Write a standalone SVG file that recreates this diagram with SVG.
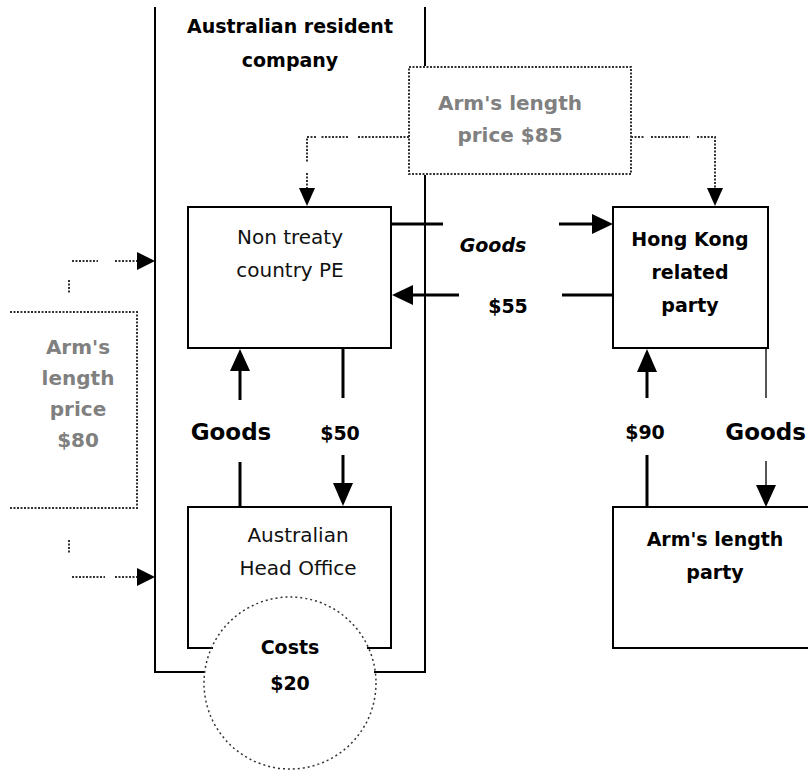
<svg xmlns="http://www.w3.org/2000/svg" width="808" height="771" viewBox="0 0 808 771">
<style>
.box{fill:#fff;stroke:#000;stroke-width:2}
.ln{fill:none;stroke:#000;stroke-width:2}
.thick{fill:none;stroke:#000;stroke-width:3}
.dot{fill:none;stroke:#333;stroke-width:2;stroke-dasharray:2 1.5}
.t{font-family:"DejaVu Sans",sans-serif;font-size:20px;text-anchor:middle;fill:#111}
.b{font-family:"DejaVu Sans",sans-serif;font-size:19px;font-weight:bold;text-anchor:middle;fill:#000}
.g{font-family:"DejaVu Sans",sans-serif;font-size:20px;font-weight:bold;text-anchor:middle;fill:#808080}
.big{font-family:"DejaVu Sans",sans-serif;font-size:23px;font-weight:bold;text-anchor:middle;fill:#000}
</style>
<rect width="808" height="771" fill="#fff"/>
<g id="company">
<path class="ln" d="M155,7 V672 H205"/>
<path class="ln" d="M425,7 V66"/>
<path class="ln" d="M425,175 V672 H374"/>
<text class="b" x="290" y="33">Australian resident</text>
<text class="b" x="290" y="67">company</text>
</g>
<g id="connectors">
<path class="dot" d="M409,137 H357 M348,137 H320 M316,137 H307 V162 M307,173 V196"/>
<path d="M299,188 L315,188 L307,206 Z" fill="#000"/>
<path class="dot" d="M631,137 H645 M651,137 H690 M697,137 H715 V196"/>
<path d="M707,188 L723,188 L715,206 Z" fill="#000"/>
<path class="dot" d="M72,261 H98 M115,261 H140"/>
<path d="M137,252 L155,261 L137,270 Z" fill="#000"/>
<path class="dot" d="M69,280 V294"/>
<path class="dot" d="M69,540 V554"/>
<path class="dot" d="M72,577 H105 M115,577 H140"/>
<path d="M137,568 L155,577 L137,586 Z" fill="#000"/>
<path class="thick" d="M392,224 H443"/>
<path class="thick" d="M559,224 H595"/>
<path d="M592,214 L613,224 L592,234 Z" fill="#000"/>
<path class="thick" d="M613,295 H562"/>
<path class="thick" d="M459,295 H410"/>
<path d="M413,285 L392,295 L413,305 Z" fill="#000"/>
<path class="thick" d="M240,506 V462"/>
<path class="thick" d="M240,400 V368"/>
<path d="M230,371 L240,349 L250,371 Z" fill="#000"/>
<path class="thick" d="M343,349 V398"/>
<path class="thick" d="M343,455 V486"/>
<path d="M333,483 L343,506 L353,483 Z" fill="#000"/>
<path class="thick" d="M647,507 V455"/>
<path class="thick" d="M647,398 V370"/>
<path d="M637,372 L647,349 L657,372 Z" fill="#000"/>
<path d="M766,349 V398" stroke="#555" stroke-width="2" fill="none"/>
<path d="M766,461 V488" stroke="#555" stroke-width="2" fill="none"/>
<path d="M756,485 L766,507 L776,485 Z" fill="#000"/>
<text class="b" x="493" y="252" font-size="17" font-style="italic">Goods</text>
<text class="b" x="508" y="313" font-size="23">$55</text>
<text class="big" x="231" y="440">Goods</text>
<text class="b" x="340" y="440" font-size="23">$50</text>
<text class="b" x="645" y="439" font-size="21">$90</text>
<text class="big" x="806" y="440" style="text-anchor:end" font-size="22">Goods</text>
</g>
<g id="arm85">
<rect class="dot" x="409" y="67" width="222" height="107" fill="#fff"/>
<text class="g" x="510" y="110">Arm's length</text>
<text class="g" x="510" y="142">price $85</text>
</g>
<g id="arm80">
<path class="dot" d="M10,312 H137 V508 H10"/>
<text class="g" x="78" y="354">Arm's</text>
<text class="g" x="78" y="385">length</text>
<text class="g" x="78" y="416">price</text>
<text class="g" x="78" y="447">$80</text>
</g>
<g id="pe">
<rect class="box" x="188" y="207" width="203" height="141"/>
<text class="t" x="290" y="244">Non treaty</text>
<text class="t" x="290" y="277">country PE</text>
</g>
<g id="hk">
<rect class="box" x="613" y="207" width="155" height="141"/>
<text class="b" x="690" y="246">Hong Kong</text>
<text class="b" x="690" y="279">related</text>
<text class="b" x="690" y="312">party</text>
</g>
<g id="headoffice">
<path class="ln" d="M213,648 H188 V507 H391 V648 H367"/>
<text class="t" x="298" y="542">Australian</text>
<text class="t" x="298" y="575">Head Office</text>
</g>
<g id="costs">
<circle cx="290" cy="683" r="86" fill="none" stroke="#333" stroke-width="1.5" stroke-dasharray="2 3"/>
<text class="b" x="290" y="654">Costs</text>
<text class="b" x="290" y="690" font-size="22">$20</text>
</g>
<g id="armparty">
<path class="ln" d="M810,507 H613 V648 H810"/>
<text class="b" x="715" y="546">Arm's length</text>
<text class="b" x="715" y="579">party</text>
</g>
</svg>
